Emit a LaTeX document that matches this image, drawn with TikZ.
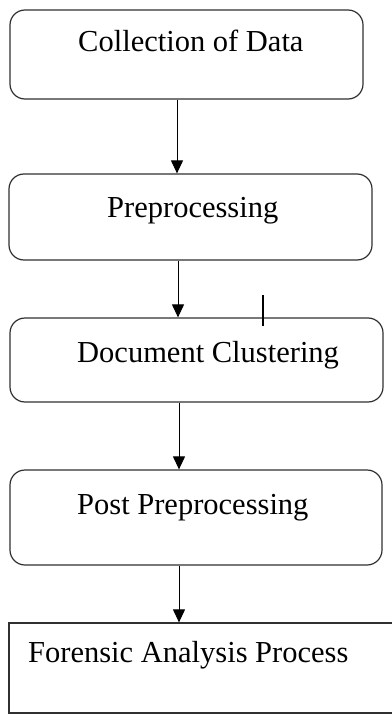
\documentclass[tikz,border=0pt]{standalone}
\usepackage{fontspec}
\setmainfont{Liberation Serif}
\usetikzlibrary{arrows.meta}
\definecolor{edge}{HTML}{303030}
\begin{document}
\begin{tikzpicture}[x=1pt,y=-1pt,
  box/.style={draw=edge, line width=1.2pt, rounded corners=15pt, inner sep=0pt},
  plainbox/.style={draw=edge, line width=1.2pt, inner sep=0pt},
  lbl/.style={anchor=base west, inner sep=0pt, font=\fontsize{30.5}{36}\selectfont},
  arr/.style={draw=black, line width=1pt, -{Triangle[length=13pt,width=12pt]}},
  tickmark/.style={draw=black, line width=2.5pt}]
\useasboundingbox (0,0) rectangle (391,714);
% boxes
\node[box, minimum width=353pt, minimum height=89pt] (b1) at (186.5,54.5) {};
\node[box, minimum width=363pt, minimum height=86pt] (b2) at (190.5,217) {};
\node[box, minimum width=373pt, minimum height=84pt] (b3) at (196.5,360) {};
\node[box, minimum width=372pt, minimum height=95pt] (b4) at (196,517.5) {};
\node[plainbox, minimum width=400pt, minimum height=90pt] (b5) at (209,668) {};
% texts
\node[lbl] (t1) at (78,52) {Collection of Data};
\node[lbl] (t2) at (107,217) {Preprocessing};
\node[lbl] (t3) at (77,362) {Document Clustering};
\node[lbl] (t4) at (77,514) {Post Preprocessing};
\node[lbl] (t5) at (28,662) {Forensic Analysis Process};
% arrows
\coordinate (x1) at (177,0);
\coordinate (x2) at (178,0);
\coordinate (x3) at (179,0);
\draw[arr] (b1.south -| x1) -- (b2.north -| x1);
\draw[arr] (b2.south -| x2) -- (b3.north -| x2);
\draw[arr] (b3.south -| x3) -- (b4.north -| x3);
\draw[arr] (b4.south -| x3) -- (b5.north -| x3);
% tick mark
\coordinate (k1) at (263,295);
\coordinate (k2) at (263,326);
\draw[tickmark] (k1) -- (k2);
\end{tikzpicture}
\end{document}
